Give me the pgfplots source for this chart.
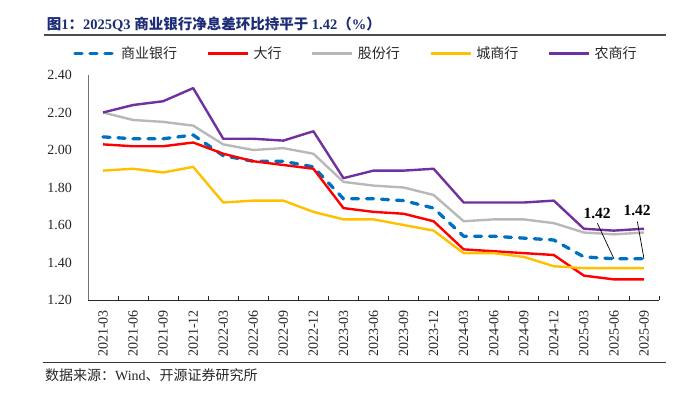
\documentclass[border=0pt]{standalone}
\usepackage{fontspec}
\setmainfont{Liberation Serif}
\newfontfamily\cjk{Noto Sans CJK SC}
\usepackage{pgfplots}
\pgfplotsset{compat=1.18}
\definecolor{cBlue}{RGB}{0,112,192}
\definecolor{cRed}{RGB}{255,0,0}
\definecolor{cGray}{RGB}{184,184,184}
\definecolor{cYellow}{RGB}{255,192,0}
\definecolor{cPurple}{RGB}{112,48,160}
\definecolor{cTitle}{RGB}{28,44,118}
\newcommand\zh[1]{{\cjk #1}}
\pgfplotstableread{
i  bank  big   joint city  rural
0  2.07  2.03  2.20  1.89  2.20
1  2.06  2.02  2.16  1.90  2.24
2  2.06  2.02  2.15  1.88  2.26
3  2.08  2.04  2.13  1.91  2.33
4  1.97  1.98  2.03  1.72  2.06
5  1.94  1.94  2.00  1.73  2.06
6  1.94  1.92  2.01  1.73  2.05
7  1.91  1.90  1.98  1.67  2.10
8  1.74  1.69  1.83  1.63  1.85
9  1.74  1.67  1.81  1.63  1.89
10 1.73  1.66  1.80  1.60  1.89
11 1.69  1.62  1.76  1.57  1.90
12 1.54  1.47  1.62  1.45  1.72
13 1.54  1.46  1.63  1.45  1.72
14 1.53  1.45  1.63  1.43  1.72
15 1.52  1.44  1.61  1.38  1.73
16 1.43  1.33  1.56  1.37  1.58
17 1.42  1.31  1.55  1.37  1.57
18 1.42  1.31  1.56  1.37  1.58
}\nimdata
\begin{document}
\begin{tikzpicture}
\useasboundingbox (-88bp,-96bp) rectangle (585bp,300bp);
% title
\node[anchor=west, inner sep=0pt, text=cTitle, font=\bfseries\fontsize{14.5bp}{16bp}\selectfont] at (-41.3bp,276bp)
  {\zh{图}1\zh{：}2025Q3 \zh{商业银行净息差环比持平于} 1.42\zh{（}\%\zh{）}};
\draw[black!70, line width=1.2bp] (-44bp,265bp) -- (578bp,265bp);
\draw[black!80, line width=1bp] (-45bp,-62bp) -- (578bp,-62bp);
\node[anchor=west, inner sep=0pt, text=black!85, font=\fontsize{14bp}{16bp}\selectfont] at (-43bp,-75bp)
  {\zh{数据来源：}Wind\zh{、开源证券研究所}};
\begin{axis}[
  at={(0,0)}, anchor=south west,
  width=571bp, height=225bp, scale only axis,
  xmin=-0.5, xmax=18.5, ymin=1.2, ymax=2.4,
  enlargelimits=false, clip=false,
  axis lines=left, axis line style={-},
  x axis line style={black!85, line width=0.9bp},
  y axis line style={black!55, line width=0.9bp},
  xtick={0,...,18},
  xticklabels={2021-03,2021-06,2021-09,2021-12,2022-03,2022-06,2022-09,2022-12,2023-03,2023-06,2023-09,2023-12,2024-03,2024-06,2024-09,2024-12,2025-03,2025-06,2025-09},
  minor xtick={-0.5,0.5,...,18.5},
  major tick length=0pt,
  minor tick length=4bp,
  tick align=inside,
  minor tick style={black!85, line width=0.8bp},
  ytick={1.2,1.4,1.6,1.8,2.0,2.2,2.4},
  yticklabels={1.20,1.40,1.60,1.80,2.00,2.20,2.40},
  ticklabel style={font=\fontsize{14bp}{16bp}\selectfont, text=black!85},
  xticklabel style={rotate=90, anchor=east, inner sep=0pt},
  xticklabel shift=10bp,
  yticklabel style={anchor=east, inner sep=0pt},
  yticklabel shift=16bp,
  legend columns=5,
  legend style={at={(-0.0257,1.0964)}, anchor=west, draw=none, fill=none, inner sep=0pt, outer sep=0pt,
    font=\fontsize{14bp}{16bp}\selectfont\cjk, text=black!85,
    nodes={inner xsep=0pt, inner ysep=1pt},
    /tikz/every odd column/.append style={column sep=4.5bp},
    /tikz/every even column/.append style={column sep=29.5bp}},
  legend image code/.code={\draw[#1] (0bp,0bp) -- (40bp,0bp);},
  every axis plot/.append style={line join=round},
]
\addplot[cBlue, line width=3.3bp, line cap=round, dash pattern=on 7bp off 8bp] table[x=i,y=bank] {\nimdata};
\addlegendentry{商业银行}
\addplot[cRed, line width=2.4bp] table[x=i,y=big] {\nimdata};
\addlegendentry{大行}
\addplot[cGray, line width=2.4bp] table[x=i,y=joint] {\nimdata};
\addlegendentry{股份行}
\addplot[cYellow, line width=2.4bp] table[x=i,y=city] {\nimdata};
\addlegendentry{城商行}
\addplot[cPurple, line width=2.4bp] table[x=i,y=rural] {\nimdata};
\addlegendentry{农商行}
\node[font=\bfseries\fontsize{15.5bp}{16bp}\selectfont, inner sep=0pt] at (axis cs:16.44,1.662) {1.42};
\node[font=\bfseries\fontsize{15.5bp}{16bp}\selectfont, inner sep=0pt] at (axis cs:17.77,1.675) {1.42};
\draw[black, line width=0.7bp] (axis cs:16.45,1.609) -- (axis cs:17,1.42);
\draw[black, line width=0.7bp] (axis cs:17.78,1.618) -- (axis cs:18,1.42);
\end{axis}
\end{tikzpicture}
\end{document}
